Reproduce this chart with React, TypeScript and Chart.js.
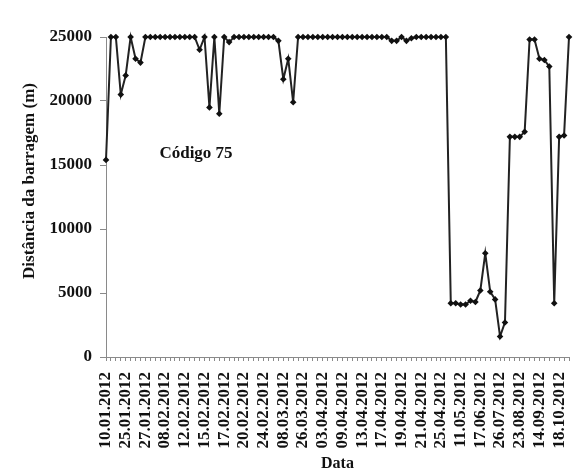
import React, { useEffect, useRef } from "react";
import { Chart, registerables } from "chart.js";

Chart.register(...registerables);

// Date labels printed under every fourth survey
const tickDates = [
  "10.01.2012", "25.01.2012", "27.01.2012", "08.02.2012", "12.02.2012", "15.02.2012",
  "17.02.2012", "20.02.2012", "24.02.2012", "08.03.2012", "26.03.2012", "03.04.2012",
  "09.04.2012", "13.04.2012", "17.04.2012", "19.04.2012", "21.04.2012", "25.04.2012",
  "11.05.2012", "17.06.2012", "26.07.2012", "23.08.2012", "14.09.2012", "18.10.2012",
];

// Distance from the dam (m) for each detection of tag 75
const distances = [
  15400, 25000, 25000, 20500, 22000, 25000, 23300, 23000,
  25000, 25000, 25000, 25000, 25000, 25000, 25000, 25000, 25000, 25000, 25000,
  24000, 25000, 19500, 25000, 19000, 25000, 24600,
  25000, 25000, 25000, 25000, 25000, 25000, 25000, 25000, 25000,
  24700, 21700, 23300, 19900,
  25000, 25000, 25000, 25000, 25000, 25000, 25000, 25000, 25000, 25000,
  25000, 25000, 25000, 25000, 25000, 25000, 25000, 25000, 25000,
  24700, 24700, 25000, 24700, 24900,
  25000, 25000, 25000, 25000, 25000, 25000, 25000,
  4200, 4200, 4100, 4100, 4400, 4300, 5200, 8100, 5100, 4500, 1600, 2700,
  17200, 17200, 17200, 17600, 24800, 24800, 23300, 23200, 22700, 4200,
  17200, 17300, 25000,
];

const yTicks = [0, 5000, 10000, 15000, 20000, 25000];
const yTitle = "Distância da barragem (m)";
const xTitle = "Data";
const tagLabel = "Código 75";

const SERIF = '"Liberation Serif", "Times New Roman", serif';

const textPlugin = {
  id: "extraText",
  afterDraw(chart: any) {
    const { ctx, chartArea } = chart;
    ctx.save();
    ctx.fillStyle = "#111";
    ctx.textAlign = "center";
    ctx.textBaseline = "middle";
    ctx.font = `bold 17px ${SERIF}`;
    ctx.fillText(tagLabel, chartArea.left + 90, chartArea.top + 117);
    ctx.translate(30, chartArea.top + 144);
    ctx.rotate(-Math.PI / 2);
    ctx.fillText(yTitle, 0, 0);
    ctx.restore();
  },
};

export default function App() {
  const ref = useRef<HTMLCanvasElement>(null);

  useEffect(() => {
    if (!ref.current) return;
    const labels = distances.map((_, i) => (i % 4 === 0 ? tickDates[i / 4] ?? "" : ""));
    const chart = new Chart(ref.current, {
      type: "line",
      data: {
        labels,
        datasets: [
          {
            data: distances,
            borderColor: "#222",
            borderWidth: 2,
            backgroundColor: "#111",
            pointBackgroundColor: "#111",
            pointBorderColor: "#111",
            pointStyle: "rectRot",
            pointRadius: 3.3,
            pointBorderWidth: 0,
            tension: 0,
            fill: false,
            clip: false,
          },
        ],
      },
      options: {
        animation: false,
        responsive: false,
        events: [],
        layout: { padding: { left: 0, right: 11, top: 37, bottom: 0 } },
        plugins: { legend: { display: false }, tooltip: { enabled: false } },
        scales: {
          x: {
            type: "category",
            offset: false,
            afterFit: (s: any) => {
              s.height = 116;
              s.paddingLeft = 0;
              s.paddingRight = 0;
            },
            border: { color: "#8a8a8a", width: 1 },
            grid: { drawOnChartArea: false, drawTicks: true, tickLength: 4, color: "#8a8a8a", offset: false },
            ticks: {
              autoSkip: false,
              minRotation: 90,
              maxRotation: 90,
              padding: 11,
              color: "#111",
              font: { family: SERIF, size: 17, weight: "bold" },
            },
            title: {
              display: true,
              text: xTitle,
              color: "#111",
              padding: { top: 0, bottom: 0 },
              font: { family: SERIF, size: 16, weight: "bold" },
            },
          },
          y: {
            min: 0,
            max: 25000,
            afterFit: (s: any) => {
              s.width = 106;
            },
            afterBuildTicks: (s: any) => {
              s.ticks = yTicks.map((v) => ({ value: v }));
            },
            border: { color: "#8a8a8a", width: 1 },
            grid: { drawOnChartArea: false, drawTicks: true, tickLength: 6, color: "#8a8a8a" },
            ticks: {
              padding: 8,
              color: "#111",
              font: { family: SERIF, size: 17, weight: "bold" },
              callback: (v: any) => String(v),
            },
          },
        },
      },
      plugins: [textPlugin],
    });
    return () => chart.destroy();
  }, []);

  return (
    <div style={{ position: "absolute", left: 0, top: 0, width: 580, height: 473, background: "#fff" }}>
      <canvas ref={ref} width={580} height={473} />
    </div>
  );
}
